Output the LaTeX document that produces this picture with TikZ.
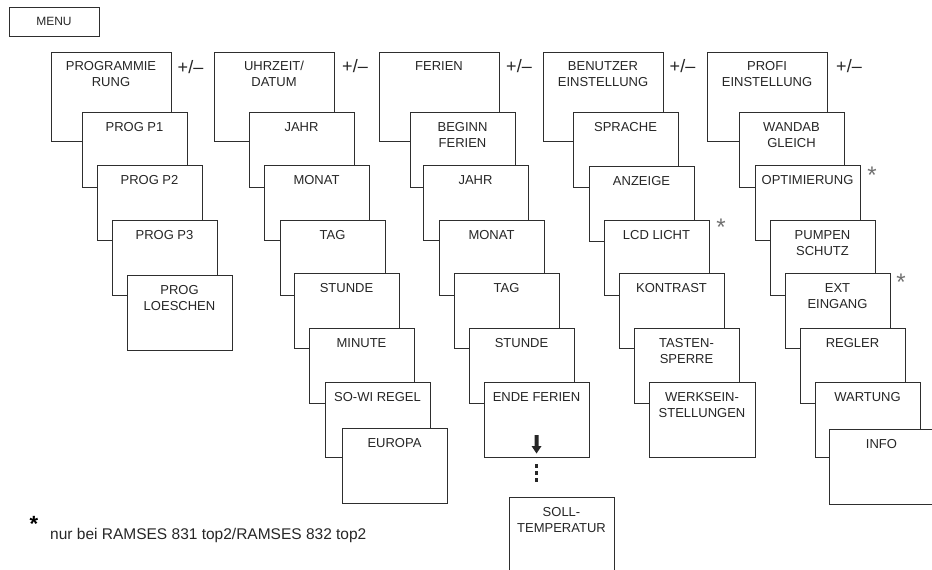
\documentclass[tikz,border=0pt]{standalone}
\usepackage{fontspec}
\setmainfont{Liberation Sans}
\definecolor{ln}{HTML}{2E2E2E}
\definecolor{tx}{HTML}{262626}
\definecolor{st}{HTML}{707070}
\tikzset{
  box/.style={draw=ln, line width=1pt, fill=white, rectangle, anchor=north west, inner sep=0pt, outer sep=0pt},
  boxtext/.style={anchor=north, inner sep=0pt, align=center, text=tx, font=\fontsize{13}{16}\selectfont},
  pm/.style={inner sep=0pt, text=tx, font=\fontsize{18}{18}\selectfont},
  star/.style={anchor=north, inner sep=0pt, text=st, font=\fontsize{24}{24}\selectfont}
}
\newcommand{\mnubox}[7]{%
  \node[box, minimum width=#4pt, minimum height=#5pt] (#1) at (#2,#3) {};
  \node[boxtext] (#1t) at ([yshift=-#6pt]#1.north) {#7};}
\begin{document}
\begin{tikzpicture}[x=1pt, y=-1pt]
\useasboundingbox (0,0) rectangle (932,570);
% MENU
\node[box, minimum width=90pt, minimum height=29pt] (menu) at (9,7) {};
\node[inner sep=0pt, text=tx, font=\fontsize{12}{14}\selectfont] (menut) at (menu.center) {MENU};
% column 1
\mnubox{prog}{51}{52}{120}{89}{9}{PROGRAMMIE\\RUNG}
\mnubox{pa}{82}{112}{105}{75}{10}{PROG P1}
\mnubox{pb}{97}{165}{105}{75}{10}{PROG P2}
\mnubox{pc}{112}{220}{105}{75}{10}{PROG P3}
\mnubox{pd}{127}{275}{105}{75}{10}{PROG\\LOESCHEN}
% column 2
\mnubox{uhr}{214}{52}{120}{89}{9}{UHRZEIT/\\DATUM}
\mnubox{ua}{249}{112}{105}{75}{10}{JAHR}
\mnubox{ub}{264}{165}{105}{75}{10}{MONAT}
\mnubox{uc}{280}{220}{105}{75}{10}{TAG}
\mnubox{ud}{294}{273}{105}{75}{10}{STUNDE}
\mnubox{ue}{309}{328}{105}{75}{10}{MINUTE}
\mnubox{uf}{325}{382}{105}{75}{10}{SO-WI REGEL}
\mnubox{ug}{342}{428}{105}{75}{10}{EUROPA}
% column 3
\mnubox{fer}{379}{52}{120}{89}{9}{FERIEN}
\mnubox{fa}{410}{112}{105}{75}{10}{BEGINN\\FERIEN}
\mnubox{fb}{423}{165}{105}{75}{10}{JAHR}
\mnubox{fc}{439}{220}{105}{75}{10}{MONAT}
\mnubox{fd}{454}{273}{105}{75}{10}{TAG}
\mnubox{fe}{469}{328}{105}{75}{10}{STUNDE}
\mnubox{ff}{484}{382}{105}{75}{10}{ENDE FERIEN}
\mnubox{fg}{509}{497}{105}{80}{10}{SOLL-\\TEMPERATUR}
% arrow and dots
\fill[tx] (534.5,435) -- (538.5,435) -- (538.5,446) -- (541.5,446) -- (536.5,453.5) -- (531.5,446) -- (534.5,446) -- cycle;
\foreach \yy in {466,473,480} \fill[tx] (534.8,\yy-1.8) rectangle (538.2,\yy+1.8);
% column 4
\mnubox{ben}{543}{52}{120}{89}{9}{BENUTZER\\EINSTELLUNG}
\mnubox{ba}{573}{112}{105}{75}{10}{SPRACHE}
\mnubox{bb}{589}{166}{105}{75}{10}{ANZEIGE}
\mnubox{bc}{604}{220}{105}{75}{10}{LCD LICHT}
\mnubox{bd}{619}{273}{105}{75}{10}{KONTRAST}
\mnubox{be}{634}{328}{105}{75}{10}{TASTEN-\\SPERRE}
\mnubox{bf}{649}{382}{106}{75}{10}{WERKSEIN-\\STELLUNGEN}
% column 5
\mnubox{pro}{707}{52}{120}{89}{9}{PROFI\\EINSTELLUNG}
\mnubox{ra}{739}{112}{105}{75}{10}{WANDAB\\GLEICH}
\mnubox{rb}{755}{165}{105}{75}{10}{OPTIMIERUNG}
\mnubox{rc}{770}{220}{105}{75}{10}{PUMPEN\\SCHUTZ}
\mnubox{rd}{785}{273}{105}{75}{10}{EXT\\EINGANG}
\mnubox{re}{800}{328}{105}{75}{10}{REGLER}
\mnubox{rf}{815}{382}{105}{75}{10}{WARTUNG}
\mnubox{rg}{829}{429}{105}{75}{10}{INFO}
% +/- signs
\node[pm] (pm1) at (190.5,67) {+/–};
\node[pm] (pm2) at (355,66) {+/–};
\node[pm] (pm3) at (519,66) {+/–};
\node[pm] (pm4) at (682.5,66) {+/–};
\node[pm] (pm5) at (849,66) {+/–};
% asterisks
\node[star] (s1) at (721,219) {*};
\node[star] (s2) at (872,167) {*};
\node[star] (s3) at (901,274) {*};
% footnote
\node[anchor=north, inner sep=0pt, text=black, font=\fontsize{22}{22}\selectfont\bfseries] (fs) at (34,516) {*};
\node[anchor=base west, inner sep=0pt, text=tx, font=\fontsize{15.5}{18}\selectfont] (fn) at (50,539) {nur bei RAMSES 831 top2/RAMSES 832 top2};
\end{tikzpicture}
\end{document}
